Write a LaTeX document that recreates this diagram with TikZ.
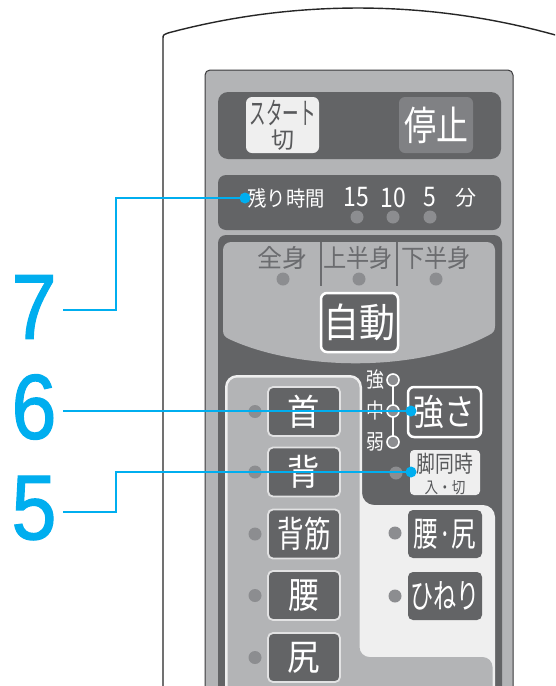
\documentclass[tikz,border=0pt]{standalone}
\usepackage{fontspec}
\usepackage{graphicx}
\setmainfont{Noto Sans CJK JP}
\newfontfamily\numfont[FakeBold=1.4]{Liberation Sans}
\newcommand\jfs[1]{\fontsize{#1}{#1}\selectfont}
\newcommand\cnd[2][0.85]{\scalebox{#1}[1]{#2}}
\definecolor{dgray}{HTML}{636466}
\definecolor{lgray}{HTML}{B3B4B6}
\definecolor{wpanel}{HTML}{EFEFEF}
\definecolor{stopc}{HTML}{808184}
\definecolor{dotc}{HTML}{8C8D90}
\definecolor{txtg}{HTML}{6B6C6F}
\definecolor{txtd}{HTML}{58595B}
\definecolor{edge}{HTML}{3A3A3C}
\definecolor{btnedge}{HTML}{E2E2E3}
\definecolor{cyanc}{HTML}{00AEEF}
\tikzset{
  every node/.style={inner sep=0pt, outer sep=0pt},
  dot/.style={circle, fill=dotc, minimum size=13pt},
  lbtn/.style={draw=btnedge, line width=1.8pt, fill=dgray, rounded corners=5pt,
    minimum width=72pt, minimum height=49pt, text=white, font=\jfs{36}},
  wbtn/.style={fill=wpanel, rounded corners=6pt},
  rbtn/.style={fill=dgray, rounded corners=5pt, minimum width=74pt, minimum height=48pt,
    text=white, font=\jfs{34}},
  hbtn/.style={draw=white, line width=2.5pt, fill=dgray, rounded corners=6pt, text=white},
  lvl/.style={circle, draw=white, line width=1.6pt, fill=dotc, minimum size=12pt},
  cdot/.style={circle, fill=cyanc, minimum size=11pt},
  callout/.style={draw=cyanc, line width=1.5pt},
  bignum/.style={text=cyanc, font=\numfont\jfs{92}}
}
\begin{document}
\begin{tikzpicture}[x=1pt,y=-1pt]
\useasboundingbox (0,0) rectangle (555,686);
\clip (0,0) rectangle (555,686);
\fill[white] (0,0) rectangle (555,686);

% remote body outline
\draw[line width=1.4pt, black!85] (163,700) -- (163,39) .. controls (163,35) .. (168,33)
  .. controls (292.4,-0.3) and (423.6,-0.3) .. (548,33) -- (560,36.2);

% panel
\draw[fill=lgray, draw=edge, line width=1pt, rounded corners=5pt] (205,70) rectangle (513,720);

% start / stop
\fill[dgray, rounded corners=10pt] (218,92) rectangle (501,159);
\node[wbtn, minimum width=73pt, minimum height=56pt] (start) at (282.5,125) {};
\node[text=txtd, font=\jfs{30}] (startt) at (282.5,112.5) {\cnd[0.55]{スタート}};
\node[text=txtd, font=\jfs{23}] (startk) at (282.5,140) {切};
\node[fill=stopc, rounded corners=6pt, minimum width=74pt, minimum height=56pt,
  text=white, font=\jfs{40}] (stop) at (436,125) {\cnd[0.8]{停止}};

% timer
\fill[dgray, rounded corners=8pt] (218,175) rectangle (501,230);
\node[text=white, font=\jfs{21}] (remain) at (286,198) {\cnd[0.92]{残り時間}};
\node[text=white, font=\jfs{27}] (t15) at (356,197.5) {\cnd[0.85]{15}};
\node[text=white, font=\jfs{27}] (t10) at (393,197.5) {\cnd[0.85]{10}};
\node[text=white, font=\jfs{27}] (t5) at (430,197.5) {\cnd[0.85]{5}};
\node[text=white, font=\jfs{21}] (min) at (466,198) {分};
\node[dot] (d15) at (357,217) {};
\node[dot] (d10) at (393,217) {};
\node[dot] (d5) at (430,217) {};

% main dark area
\fill[dgray, rounded corners=8pt] (218,235) rectangle (502,720);

% body area selector
\fill[lgray] (229,339) .. controls (225,337) and (223,335) .. (223,330)
  [rounded corners=8pt] -- (223,242) -- (495,242) [sharp corners] -- (495,326)
  .. controls (495,331) and (493,333) .. (489,335)
  .. controls (420,372) and (300,372) .. (229,339) -- cycle;
\draw[txtg, line width=1.2pt] (321,242) -- (321,286);
\draw[txtg, line width=1.2pt] (397,242) -- (397,286);
\node[text=txtg, font=\jfs{25}] (zen) at (282,258) {全身};
\node[text=txtg, font=\jfs{25}] (jo) at (358,258) {\cnd[0.93]{上半身}};
\node[text=txtg, font=\jfs{25}] (ka) at (436,258) {\cnd[0.93]{下半身}};
\node[dot] (dzen) at (283,279) {};
\node[dot] (djo) at (359,279) {};
\node[dot] (dka) at (436,279) {};
\node[hbtn, minimum width=77pt, minimum height=59pt, font=\jfs{40}] (auto) at (359.5,322.5) {\cnd[0.9]{自動}};

% parts panel
\fill[wpanel, rounded corners=12pt] (225,720) -- (225,375) -- (362,375) -- (362,505)
  -- (495,505) -- (495,720) -- cycle;
\fill[lgray, rounded corners=10pt] (227.5,720) -- (227.5,377.5) -- (359.5,377.5)
  -- (359.5,657) -- (492.5,657) -- (492.5,720) -- cycle;

\node[lbtn] (kubi) at (304,411.5) {\cnd[0.9]{首}};
\node[lbtn] (se) at (304,472) {\cnd[0.9]{背}};
\node[lbtn] (sesuji) at (304,534) {\cnd[0.74]{背筋}};
\node[lbtn] (koshi) at (304,595.5) {\cnd[0.85]{腰}};
\node[lbtn] (shiri) at (304,657.5) {\cnd[0.9]{尻}};
\node[dot] (dkubi) at (255,411.5) {};
\node[dot] (dse) at (255,472) {};
\node[dot] (dsesuji) at (255,534) {};
\node[dot] (dkoshi) at (255,595.5) {};
\node[dot] (dshiri) at (255,657.5) {};

% strength
\node[lvl] (lvs) at (393,380) {};
\node[lvl] (lvm) at (393,411) {};
\node[lvl] (lvw) at (393,442) {};
\draw[white, line width=1.6pt] (lvs) -- (lvm) -- (lvw);
\node[text=white, font=\jfs{21}] (ls) at (375,380) {\cnd[0.85]{強}};
\node[text=white, font=\jfs{21}] (lm) at (375,411) {\cnd[0.85]{中}};
\node[text=white, font=\jfs{21}] (lw) at (375,442) {\cnd[0.85]{弱}};
\node[hbtn, minimum width=73pt, minimum height=50pt, font=\jfs{36}] (tsuyosa) at (444.5,412) {\cnd[0.85]{強さ}};

% leg simultaneous
\node[wbtn, rounded corners=4pt, minimum width=70pt, minimum height=45pt] (ashi) at (445,472.5) {};
\node[text=txtd, font=\jfs{23}] (ashit) at (445,464) {\cnd[0.82]{脚同時}};
\node[text=txtd, font=\jfs{16}] (ashik) at (445,487.5) {\cnd[0.85]{入・切}};
\node[dot] (dashi) at (396,473) {};

% right buttons
\node[rbtn] (koshiri) at (445,534) {\cnd[0.72]{腰·尻}};
\node[rbtn] (hineri) at (445,596) {\cnd[0.68]{ひねり}};
\node[dot] (dkoshiri) at (395,533) {};
\node[dot] (dhineri) at (395,596) {};

% callouts
\node[bignum] (n7) at (34,307) {\cnd[0.88]{7}};
\node[bignum] (n6) at (34,407) {\cnd[0.88]{6}};
\node[bignum] (n5) at (34,508) {\cnd[0.88]{5}};
\node[cdot] (c7) at (245,198) {};
\node[cdot] (c6) at (411,411) {};
\node[cdot] (c5) at (411,472) {};
\coordinate (s7) at (63,310);
\coordinate (k7) at (116,310);
\coordinate (s6) at (63,411);
\coordinate (s5) at (63,512);
\coordinate (k5) at (116,512);
\draw[callout] (s7) -- (k7) |- (c7);
\draw[callout] (s6) -- (c6);
\draw[callout] (s5) -- (k5) |- (c5);
\end{tikzpicture}
\end{document}
